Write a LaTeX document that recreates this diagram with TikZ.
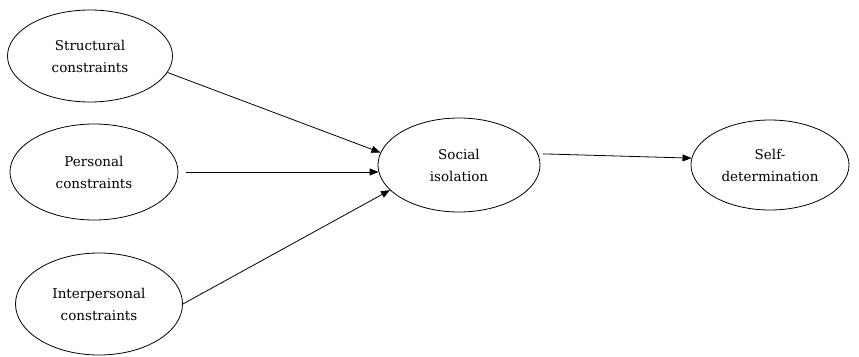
\documentclass[tikz,border=0pt]{standalone}
\usepackage{fontspec}
\setmainfont{DejaVu Serif}
\usetikzlibrary{shapes.geometric,arrows.meta}
\begin{document}
\begin{tikzpicture}[x=1pt,y=-1pt,
  ell/.style={draw,line width=0.8pt,ellipse,minimum width=#1,align=center,font=\fontsize{13.5}{22}\selectfont,inner sep=0pt},
  conn/.style={-{Triangle[length=9pt,width=7pt]},line width=0.8pt}]
\useasboundingbox (0,0) rectangle (859,356);
\node[ell={165pt},minimum height=92pt] (s) at (90,56) {Structural\\constraints};
\node[ell={168pt},minimum height=96pt] (p) at (94,172) {Personal\\constraints};
\node[ell={167pt},minimum height=102pt] (i) at (99,304) {Interpersonal\\constraints};
\node[ell={162pt},minimum height=94pt] (so) at (459,165) {Social\\isolation};
\node[ell={158pt},minimum height=90pt] (sd) at (770,165) {Self-\\determination};
\draw[conn] (s.-12) -- (so.171);
\draw[conn] ([xshift=8pt]p.east) -- ([xshift=1pt]so.west |- p.east);
\draw[conn] (i.east) -- (so.200);
\draw[conn] ([xshift=5pt]so.8) -- (sd.175);
\end{tikzpicture}
\end{document}
